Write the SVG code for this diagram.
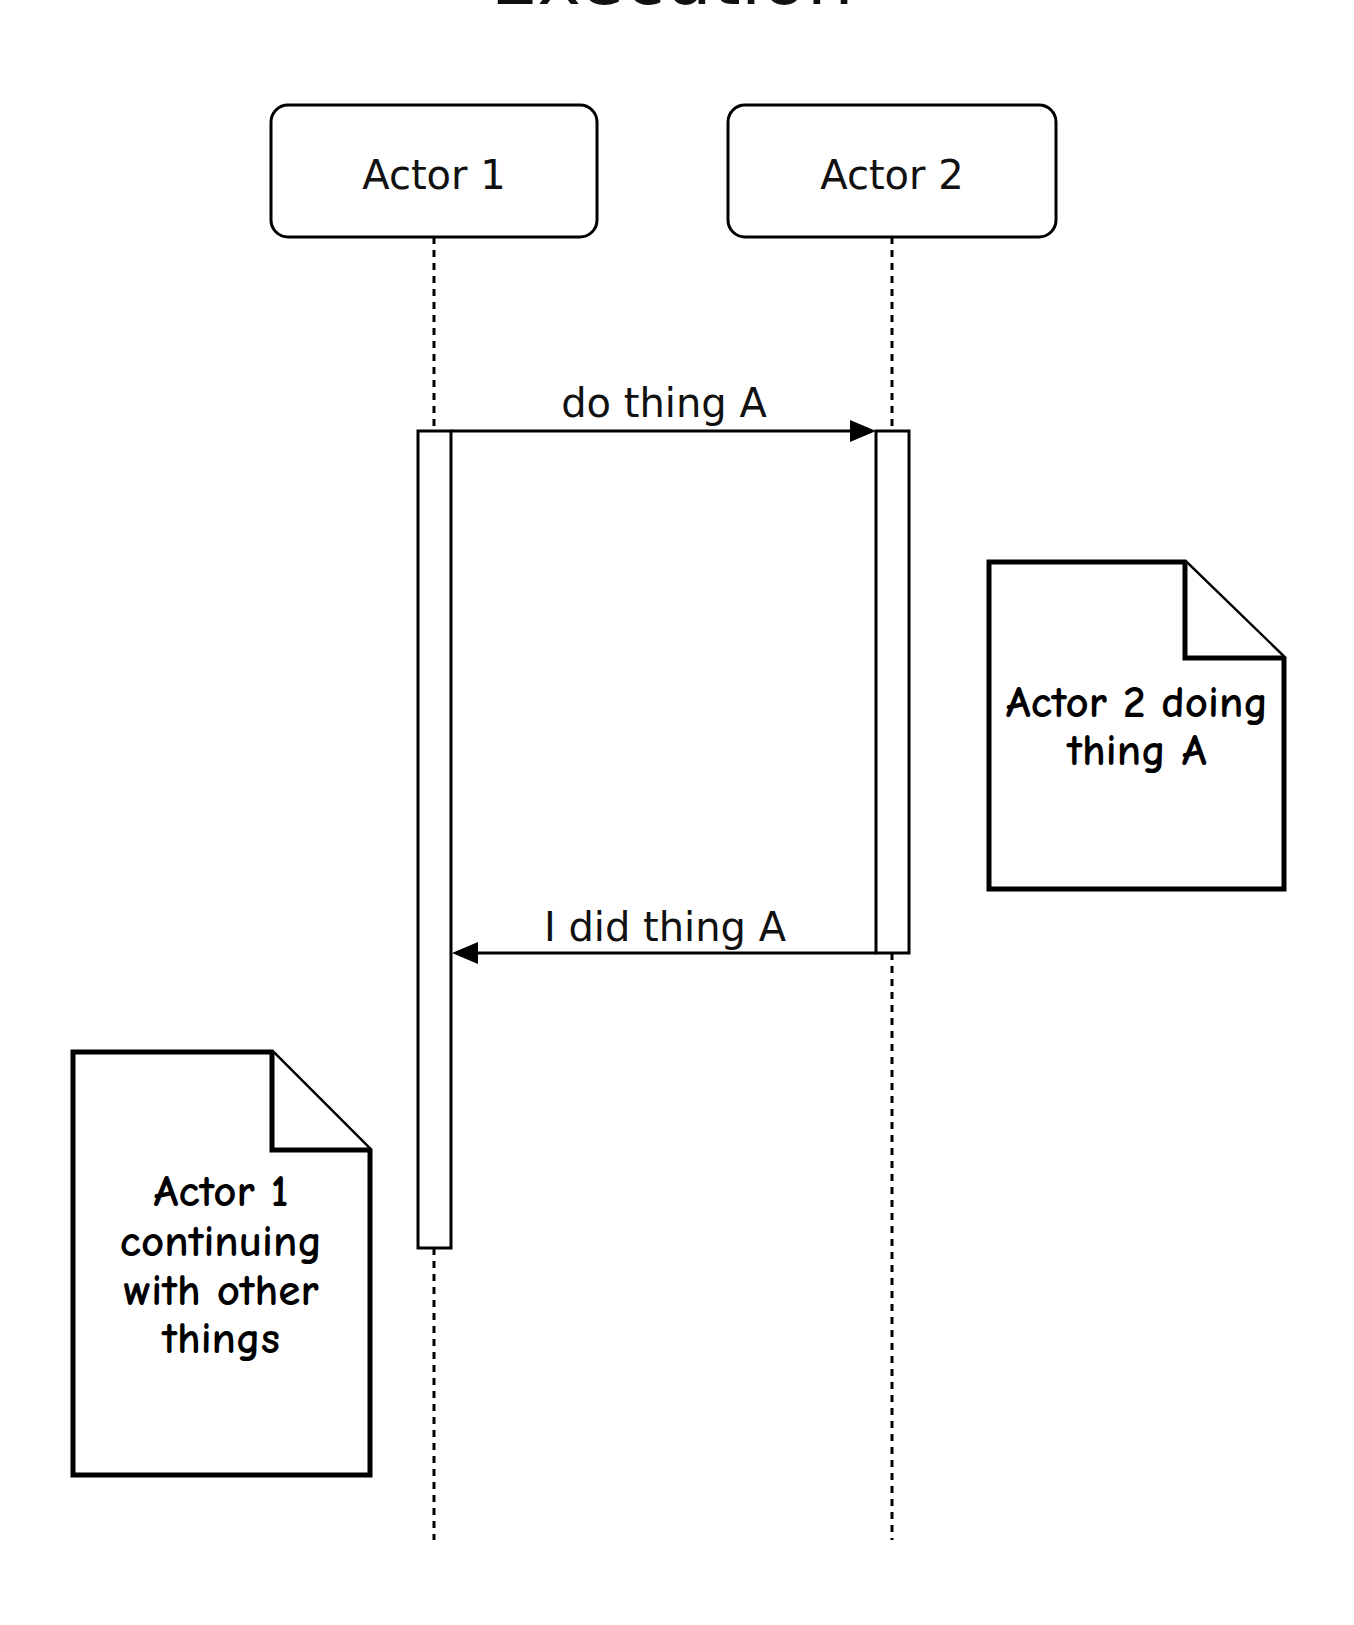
<svg xmlns="http://www.w3.org/2000/svg" width="1354" height="1625" viewBox="0 0 1354 1625">
<style>
.actor{fill:#fff;stroke:#000;stroke-width:3}
.lbl{font-family:"DejaVu Sans",Verdana,sans-serif;font-size:40px;fill:#111;text-anchor:middle}
.life{stroke:#000;stroke-width:3;stroke-dasharray:7 6;fill:none}
.act{fill:#fff;stroke:#000;stroke-width:3}
.msg{stroke:#000;stroke-width:3;fill:none}
.note{fill:#fff;stroke:#000;stroke-width:5;stroke-linejoin:miter}
.ntxt{font-family:"Comic Sans MS","Comic Neue","Noto Sans",sans-serif;font-size:45px;font-weight:bold;fill:#000;text-anchor:middle}
</style>
<rect width="1354" height="1625" fill="#fff"/>
<text x="672" y="4" font-family="DejaVu Sans,Verdana,sans-serif" font-size="74" text-anchor="middle" fill="#111">Execution</text>
<g id="connectors">
<line class="life" x1="434" y1="237" x2="434" y2="431"/>
<line class="life" x1="434" y1="1248" x2="434" y2="1540"/>
<line class="life" x1="892" y1="237" x2="892" y2="431"/>
<line class="life" x1="892" y1="953" x2="892" y2="1540"/>
</g>
<g id="actor1">
<rect class="actor" x="271" y="105" width="326" height="132" rx="17"/>
<text class="lbl" x="434" y="189">Actor 1</text>
</g>
<g id="actor2">
<rect class="actor" x="728" y="105" width="328" height="132" rx="17"/>
<text class="lbl" x="892" y="189">Actor 2</text>
</g>
<g id="activation1">
<rect class="act" x="418" y="431" width="33" height="817"/>
</g>
<g id="activation2">
<rect class="act" x="876" y="431" width="33" height="522"/>
</g>
<g id="messages">
<path d="M451,431 H850" class="msg"/>
<path d="M850,420 L876,431 L850,442 z" fill="#000"/>
<text class="lbl" x="664" y="417">do thing A</text>
<path d="M876,953 H478" class="msg"/>
<path d="M478,942 L452,953 L478,964 z" fill="#000"/>
<text class="lbl" x="665" y="941">I did thing A</text>
</g>
<g id="note2">
<path class="note" d="M989,562 H1185 L1284,658 V889 H989 Z"/>
<path class="note" d="M1185,562 V658 H1284"/>
<text class="ntxt" x="1137" y="717">Actor 2 doing</text>
<text class="ntxt" x="1137" y="765">thing A</text>
</g>
<g id="note1">
<path class="note" d="M73,1052 H272 L370,1150 V1475 H73 Z"/>
<path class="note" d="M272,1052 V1150 H370"/>
<text class="ntxt" x="221" y="1206">Actor 1</text>
<text class="ntxt" x="221" y="1256">continuing</text>
<text class="ntxt" x="221" y="1305">with other</text>
<text class="ntxt" x="221" y="1353">things</text>
</g>
</svg>
